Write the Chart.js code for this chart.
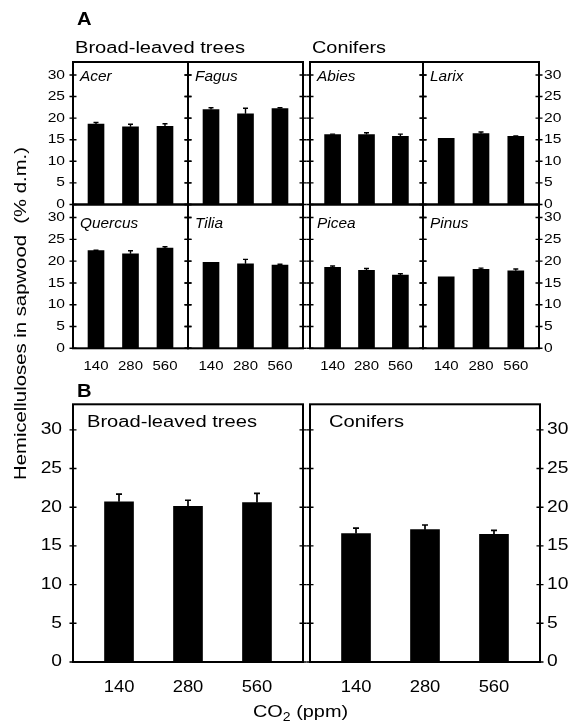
<!DOCTYPE html>
<html>
<head>
<meta charset="utf-8">
<script src="https://cdn.jsdelivr.net/npm/chart.js@4.4.1/dist/chart.umd.min.js"></script>
<style>
  html, body { margin: 0; padding: 0; background: #fff; }
  #fig { position: relative; width: 573px; height: 723px; }
  #fig canvas { position: absolute; left: 0; top: 0; }
</style>
</head>
<body>
<div id="fig"></div>
<script>
// ===== DATA =====
const co2Levels = ["140", "280", "560"];
const yTicks = [0, 5, 10, 15, 20, 25, 30];

// panel A, per genus: means and upper error (+SE)
const acerMeans = [18.6, 18.0, 18.1];
const acerErrors = [0.4, 0.6, 0.6];
const fagusMeans = [22.0, 21.0, 22.2];
const fagusErrors = [0.4, 1.3, 0.2];
const quercusMeans = [22.4, 21.7, 23.0];
const quercusErrors = [0.1, 0.7, 0.3];
const tiliaMeans = [19.75, 19.4, 19.1];
const tiliaErrors = [0, 1.0, 0.2];
const abiesMeans = [16.2, 16.2, 15.8];
const abiesErrors = [0.1, 0.4, 0.5];
const larixMeans = [15.3, 16.4, 15.8];
const larixErrors = [0, 0.4, 0.1];
const piceaMeans = [18.6, 17.9, 16.8];
const piceaErrors = [0.3, 0.4, 0.3];
const pinusMeans = [16.4, 18.1, 17.8];
const pinusErrors = [0, 0.3, 0.4];

// panel B, group means
const broadMeans = [20.7, 20.1, 20.6];
const broadErrors = [1.0, 0.8, 1.2];
const coniferMeans = [16.6, 17.1, 16.5];
const coniferErrors = [0.7, 0.6, 0.5];

// ===== LAYOUT =====
const W = 573, H = 723;
const FONT = '"Liberation Sans", Arial, sans-serif';
const fig = document.getElementById("fig");

// text with horizontal stretch (fit = target width in px)
function drawText(ctx, str, x, y, o) {
    ctx.save();
    ctx.font = `${o.italic ? "italic " : ""}${o.bold ? "bold " : ""}${o.size}px ${FONT}`;
    ctx.fillStyle = "#000";
    ctx.textBaseline = o.baseline || "alphabetic";
    ctx.textAlign = o.align || "left";
    let sx = o.sx || 1;
    if (o.fit) sx = o.fit / ctx.measureText(str).width;
    ctx.translate(x, y);
    if (o.rotate) ctx.rotate(o.rotate);
    ctx.scale(sx, 1);
    ctx.fillText(str, 0, 0);
    ctx.restore();
}

function decorFor(p) {
    return {
        id: "decor",
        afterDatasetsDraw(chart) {
            const ctx = chart.ctx;
            const xs = chart.scales.x, ys = chart.scales.y;
            ctx.save();
            ctx.strokeStyle = "#000";
            ctx.lineWidth = p.big ? 1.7 : 1.4;
            p.means.forEach((m, i) => {
                if (!p.errors[i]) return;
                const x = xs.getPixelForValue(i + 1);
                const y0 = ys.getPixelForValue(m);
                const y1 = ys.getPixelForValue(m + p.errors[i]);
                const cw = p.big ? 3 : 2.5;
                ctx.beginPath();
                ctx.moveTo(x, y0);
                ctx.lineTo(x, y1);
                ctx.moveTo(x - cw, y1);
                ctx.lineTo(x + cw, y1);
                ctx.stroke();
            });
            ctx.restore();
        },
        afterDraw(chart) {
            const ctx = chart.ctx;
            const a = chart.chartArea;
            const xs = chart.scales.x, ys = chart.scales.y;
            ctx.save();
            ctx.strokeStyle = "#000";
            ctx.lineWidth = 2;
            ctx.strokeRect(a.left, a.top, a.right - a.left, a.bottom - a.top);
            ctx.lineWidth = 1.4;
            yTicks.forEach(t => {
                const y = ys.getPixelForValue(t);
                ctx.beginPath();
                ctx.moveTo(a.left - 3.5, y); ctx.lineTo(a.left + 3.5, y);
                ctx.moveTo(a.right - 3.5, y); ctx.lineTo(a.right + 3.5, y);
                ctx.stroke();
            });
            ctx.restore();

            const ts = p.big ? 16 : 13;
            if (p.leftLabels) {
                yTicks.forEach(t => drawText(ctx, String(t), a.left - (p.big ? 11 : 8), ys.getPixelForValue(t),
                    { size: ts, sx: 1.2, align: "right", baseline: "middle" }));
            }
            if (p.rightLabels) {
                yTicks.forEach(t => drawText(ctx, String(t), a.right + (p.big ? 7 : 5), ys.getPixelForValue(t),
                    { size: ts, sx: 1.2, align: "left", baseline: "middle" }));
            }
            if (p.xLabels) {
                co2Levels.forEach((c, i) => drawText(ctx, c, xs.getPixelForValue(i + 1), a.bottom + (p.big ? 30 : 22),
                    { size: ts, sx: 1.15, align: "center" }));
            }
            if (p.title) {
                drawText(ctx, p.title, a.left + p.titleDx, a.top + p.titleDy,
                    p.big ? { size: 16, fit: p.titleFit } : { size: 14, sx: 1.1, italic: true });
            }
        }
    };
}

const figureLabels = {
    id: "figureLabels",
    afterDraw(chart) {
        const ctx = chart.ctx;
        drawText(ctx, "A", 77, 25, { size: 18, bold: true, sx: 1.12 });
        drawText(ctx, "B", 77, 397, { size: 18, bold: true, sx: 1.12 });
        drawText(ctx, "Broad-leaved trees", 75, 53, { size: 16, fit: 170 });
        drawText(ctx, "Conifers", 312, 53, { size: 16, fit: 74 });
        drawText(ctx, "Hemicelluloses in sapwood  (% d.m.)", 26, 480,
            { size: 17, fit: 333, rotate: -Math.PI / 2 });
        // CO2 (ppm) with subscript
        ctx.save();
        ctx.font = `17px ${FONT}`;
        const sx = 1.17;
        const w1 = ctx.measureText("CO").width * sx;
        ctx.font = `12px ${FONT}`;
        const w2 = ctx.measureText("2").width * sx;
        ctx.restore();
        drawText(ctx, "CO", 253, 717, { size: 17, sx: sx });
        drawText(ctx, "2", 253 + w1, 721, { size: 12, sx: sx });
        drawText(ctx, " (ppm)", 253 + w1 + w2, 717, { size: 17, sx: sx });
    }
};

const rowA1 = [62, 204.5], rowA2 = [204.5, 348.3];
const colA = [[73, 188], [188, 303], [310, 423], [423, 539]];

const panels = [
    { title: "Acer", means: acerMeans, errors: acerErrors, box: [...colA[0], ...rowA1], leftLabels: true, titleDy: 19 },
    { title: "Fagus", means: fagusMeans, errors: fagusErrors, box: [...colA[1], ...rowA1], titleDy: 19 },
    { title: "Abies", means: abiesMeans, errors: abiesErrors, box: [...colA[2], ...rowA1], titleDy: 19 },
    { title: "Larix", means: larixMeans, errors: larixErrors, box: [...colA[3], ...rowA1], rightLabels: true, titleDy: 19 },
    { title: "Quercus", means: quercusMeans, errors: quercusErrors, box: [...colA[0], ...rowA2], leftLabels: true, xLabels: true, titleDy: 23.5 },
    { title: "Tilia", means: tiliaMeans, errors: tiliaErrors, box: [...colA[1], ...rowA2], xLabels: true, titleDy: 23.5 },
    { title: "Picea", means: piceaMeans, errors: piceaErrors, box: [...colA[2], ...rowA2], xLabels: true, titleDy: 23.5 },
    { title: "Pinus", means: pinusMeans, errors: pinusErrors, box: [...colA[3], ...rowA2], rightLabels: true, xLabels: true, titleDy: 23.5 },
    { title: "Broad-leaved trees", means: broadMeans, errors: broadErrors, box: [73, 303, 404.3, 662], big: true,
      leftLabels: true, xLabels: true, titleDx: 14, titleDy: 22.5, titleFit: 170 },
    { title: "Conifers", means: coniferMeans, errors: coniferErrors, box: [310, 540, 404.3, 662], big: true,
      rightLabels: true, xLabels: true, titleDx: 19, titleDy: 22.5, titleFit: 75 }
];

// ===== CHARTS =====
panels.forEach((p, k) => {
    if (p.titleDx === undefined) p.titleDx = 7;
    const canvas = document.createElement("canvas");
    canvas.width = W;
    canvas.height = H;
    fig.appendChild(canvas);

    const extra = [decorFor(p)];
    if (k === 0) extra.push(figureLabels);

    new Chart(canvas, {
        type: "bar",
        data: {
            datasets: [{
                data: p.means.map((v, i) => ({ x: i + 1, y: v })),
                backgroundColor: "#000",
                borderWidth: 0,
                barThickness: p.big ? 29 : 16
            }]
        },
        options: {
            responsive: false,
            animation: false,
            devicePixelRatio: 1,
            layout: { padding: { left: p.box[0], right: W - p.box[1], top: p.box[2], bottom: H - p.box[3] } },
            scales: {
                x: { type: "linear", offset: false, min: 0.333, max: 3.667, display: false },
                y: { min: 0, max: p.big ? 33.3 : 33, display: false }
            },
            plugins: { legend: { display: false }, tooltip: { enabled: false } }
        },
        plugins: extra
    });
});
</script>
</body>
</html>
